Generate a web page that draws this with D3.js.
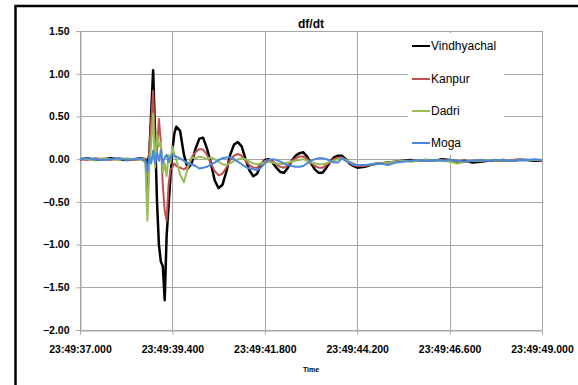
<!DOCTYPE html>
<html><head><meta charset="utf-8">
<script src="https://cdn.jsdelivr.net/npm/d3@7/dist/d3.min.js"></script>
<style>body{margin:0;background:#fff}svg{display:block}</style>
</head><body><svg id="c" width="578" height="385"></svg>
<script>
// time in seconds after 23:49:00
const time = [37.0,37.2,37.4,37.6,37.8,38.0,38.2,38.4,38.6,38.65,
38.70,38.75,38.80,38.85,38.90,38.95,39.00,39.05,39.10,39.15,39.20,39.25,39.30,39.35,39.40,39.45,39.50,
39.6,39.7,39.8,39.9,40.0,40.1,40.2,40.3,40.4,40.5,40.6,40.7,40.8,40.9,41.0,41.1,41.2,41.3,41.4,41.5,41.6,41.7,41.8,41.9,
42.0,42.1,42.2,42.3,42.4,42.5,42.6,42.7,42.8,42.9,43.0,43.1,43.2,43.3,43.4,43.5,43.6,43.7,43.8,43.9,44.0,44.1,44.2,
44.4,44.6,44.8,45.0,45.2,45.4,45.6,45.8,46.0,46.2,46.4,46.6,46.8,47.0,47.2,47.4,47.6,47.8,48.0,48.2,48.4,48.6,48.8,49.0];

const vindhyachal = [0.00,0.01,-0.01,0.00,0.01,0.00,-0.01,0.00,0.01,0.00,
0.00,-0.05,0.05,0.55,1.04,0.30,-0.50,-1.00,-1.20,-1.25,-1.65,-0.90,-0.55,-0.20,0.10,0.30,0.38,
0.33,0.05,-0.11,-0.05,0.12,0.24,0.25,0.12,-0.05,-0.25,-0.34,-0.30,-0.15,0.05,0.17,0.20,0.15,0.00,-0.13,-0.20,-0.17,-0.06,-0.01,0.00,
-0.04,-0.10,-0.15,-0.16,-0.10,-0.02,0.04,0.07,0.08,0.03,-0.05,-0.12,-0.16,-0.16,-0.10,-0.03,0.02,0.04,0.04,0.00,-0.05,-0.08,-0.10,
-0.09,-0.06,-0.05,-0.04,-0.03,-0.02,-0.01,-0.02,-0.01,-0.02,0.00,-0.01,-0.03,-0.02,-0.04,-0.03,-0.02,-0.02,-0.01,-0.02,-0.01,-0.01,-0.02,-0.02];

const kanpur = [0.00,-0.01,0.01,0.00,-0.01,0.01,0.00,-0.01,0.00,0.01,
0.00,-0.50,0.10,0.45,0.80,0.10,0.10,0.47,0.20,-0.30,-0.60,-0.72,-0.30,-0.12,-0.10,-0.05,-0.08,
-0.10,-0.12,-0.08,0.02,0.08,0.12,0.11,0.05,-0.05,-0.14,-0.19,-0.17,-0.10,-0.01,0.04,0.06,0.04,-0.02,-0.07,-0.10,-0.10,-0.06,-0.02,-0.01,
-0.02,-0.06,-0.09,-0.10,-0.07,-0.02,0.01,0.03,0.03,0.00,-0.04,-0.08,-0.10,-0.10,-0.07,-0.03,0.00,0.02,0.02,-0.01,-0.04,-0.07,-0.08,
-0.08,-0.06,-0.05,-0.05,-0.03,-0.02,-0.02,-0.01,-0.02,-0.01,-0.01,-0.02,-0.02,-0.03,-0.02,-0.02,-0.01,-0.02,-0.01,-0.01,0.00,-0.01,-0.01,-0.02];

const dadri = [0.01,0.00,-0.01,0.01,0.00,-0.01,0.01,0.00,-0.01,0.00,
-0.05,-0.72,-0.10,0.20,0.53,-0.10,0.28,0.15,0.20,-0.15,-0.05,-0.20,0.05,-0.05,0.15,0.05,0.00,
-0.18,-0.27,-0.10,0.02,0.01,0.03,0.02,0.00,0.02,0.00,-0.03,-0.06,-0.07,-0.05,-0.02,0.00,0.01,0.00,-0.03,-0.05,-0.06,-0.05,-0.04,-0.03,
-0.04,-0.05,-0.06,-0.05,-0.04,-0.03,-0.02,-0.01,0.00,-0.02,-0.04,-0.05,-0.06,-0.06,-0.05,-0.03,-0.02,0.00,0.01,-0.01,-0.03,-0.05,-0.07,
-0.07,-0.06,-0.05,-0.04,-0.03,-0.02,-0.03,-0.02,-0.01,-0.02,-0.02,-0.03,-0.05,-0.03,-0.02,-0.02,-0.01,-0.02,-0.01,-0.02,-0.01,-0.01,-0.01,-0.01];

const moga = [0.00,0.01,0.00,-0.01,0.00,0.01,-0.01,0.00,0.01,-0.02,
-0.02,-0.15,0.03,-0.05,0.10,-0.05,0.08,-0.02,0.10,-0.05,0.02,0.05,-0.03,0.03,0.05,0.04,0.03,
0.01,-0.02,-0.05,-0.06,-0.08,-0.11,-0.10,-0.09,-0.06,-0.04,-0.01,0.01,0.02,0.02,0.00,-0.03,-0.06,-0.09,-0.11,-0.12,-0.13,-0.10,-0.05,-0.01,
0.00,-0.01,-0.03,-0.05,-0.07,-0.08,-0.09,-0.09,-0.08,-0.05,-0.02,0.00,0.01,0.01,0.00,-0.02,-0.04,-0.04,0.01,-0.02,-0.04,-0.06,-0.07,
-0.07,-0.06,-0.05,-0.07,-0.04,-0.03,-0.02,-0.01,-0.02,-0.01,-0.02,-0.01,-0.02,-0.03,-0.02,-0.01,-0.02,-0.01,-0.01,-0.02,-0.01,-0.01,0.00,-0.01];

const seriesNames = ["Vindhyachal","Kanpur","Dadri","Moga"];
const seriesColors = ["#000000","#C0504D","#9BBB59","#4A89DC"];
const seriesWidths = [2.5,2,2,2];
const xTickValues = [37.0,39.4,41.8,44.2,46.6,49.0];
const xTickLabels = ["23:49:37.000","23:49:39.400","23:49:41.800","23:49:44.200","23:49:46.600","23:49:49.000"];
const yTickValues = [1.5,1.0,0.5,0.0,-0.5,-1.0,-1.5,-2.0];

const svg = d3.select("#c");
const L=80, R=542, T=31, B=330;
const x = d3.scaleLinear().domain([37,49]).range([L,R]);
const y = d3.scaleLinear().domain([-2,1.5]).range([B,T]);
const font = "'Liberation Sans', Arial, sans-serif";

svg.append("rect").attr("width",578).attr("height",385).attr("fill","#fff");
svg.append("rect").attr("x",15.5).attr("y",6).attr("width",600).attr("height",420)
  .attr("fill","none").attr("stroke","#000").attr("stroke-width",2.5);

// gridlines
const grid = svg.append("g").attr("stroke","#a6a6a6").attr("stroke-width",1).attr("shape-rendering","crispEdges");
yTickValues.forEach(v=>grid.append("line").attr("x1",L).attr("x2",R).attr("y1",Math.round(y(v))+0.5).attr("y2",Math.round(y(v))+0.5));
xTickValues.forEach(v=>grid.append("line").attr("x1",Math.round(x(v))+0.5).attr("x2",Math.round(x(v))+0.5).attr("y1",T).attr("y2",B));

// axes
const yAxis = svg.append("g").attr("transform",`translate(${L+0.5},0)`)
  .call(d3.axisLeft(y).tickValues(yTickValues).tickFormat(d3.format(".2f")).tickSize(4).tickPadding(7));
const xAxis = svg.append("g").attr("transform",`translate(0,${B+0.5})`)
  .call(d3.axisBottom(x).tickValues(xTickValues).tickFormat((d,i)=>xTickLabels[i]).tickSize(4).tickPadding(11));
[yAxis,xAxis].forEach(a=>{
  a.select(".domain").attr("stroke","#a6a6a6");
  a.selectAll(".tick line").attr("stroke","#a6a6a6");
  a.selectAll("text").attr("font-family",font).attr("font-weight","bold").attr("font-size","10.5px").attr("fill","#000");
});

// lines
const allSeries = [vindhyachal,kanpur,dadri,moga];
const line = d3.line().x((d,i)=>x(time[i])).y(d=>y(d));
allSeries.forEach((s,k)=>{
  svg.append("path").datum(s).attr("d",line).attr("fill","none")
    .attr("stroke",seriesColors[k]).attr("stroke-width",seriesWidths[k]).attr("stroke-linejoin","round");
});

// legend
svg.append("rect").attr("x",408).attr("y",33).attr("width",96).attr("height",122).attr("fill","#fff");
const legY = [46,79,111,143];
seriesNames.forEach((n,k)=>{
  svg.append("line").attr("x1",412).attr("x2",430).attr("y1",legY[k]).attr("y2",legY[k])
    .attr("stroke",seriesColors[k]).attr("stroke-width",2);
  svg.append("text").attr("x",431).attr("y",legY[k]+4).attr("font-family",font).attr("font-size","12px").text(n);
});

// title
svg.append("text").attr("x",311).attr("y",28).attr("text-anchor","middle").attr("font-family",font)
  .attr("font-weight","bold").attr("font-size","12px").text("df/dt");
svg.append("text").attr("x",311).attr("y",372).attr("text-anchor","middle").attr("font-family",font)
  .attr("font-weight","bold").attr("font-size","7px").text("Time");
</script></body></html>
